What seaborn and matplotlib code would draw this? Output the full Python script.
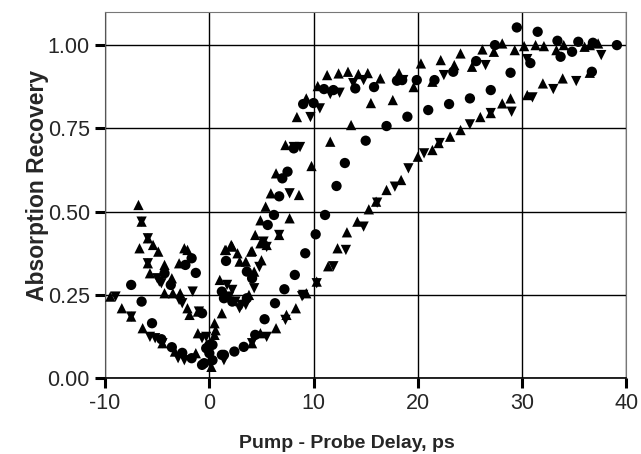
import numpy as np
import pandas as pd
import matplotlib
matplotlib.use("Agg")
import matplotlib.pyplot as plt
import seaborn as sns

# ---- data ----
up_x = [-9.5, -8.4, -6.8, -6.5, -5.9, -6.7, -5.4, -4.9, -2.4, -2.1, -2.9, -4.3, -5.7, -3.6,
        -4.3, -3.5, -2.8, -2.1, -1.9, -7.5, -6.4, -5.9, -4.5, -3.3, -1.3, -1.1, -1.1, 0.5, 0.6,
        0.5, 0.2, 1.2, 1.0, 1.5, 1.6, 2.2, 2.1, 2.7, 2.9, 3.5, 5.0, 4.3, 3.8, 4.0, 4.4, 4.9,
        5.5, 6.7, 4.1, 4.9, 5.4, 5.9, 7.7, 8.6, 6.4, 9.8, 7.3, 8.4, 9.3, 10.4, 11.3, 12.4,
        13.3, 14.3, 15.2, 16.4, 18.2, 15.5, 17.6, 19.6, 20.3, 22.2, 24.1, 26.2, 28.1, 27.3,
        25.2, 23.5, 21.4, 29.3, 30.2, 31.3, 32.1, 33.3, 34.0, 36.0, 36.5, 37.3, 11.6, 13.6,
        4.9, 6.4, 8.3, 7.4, 9.3, 10.3, 11.4, 12.3, 13.2, 14.2, 15.3, 16.0, 17.0, 18.4, 20.0,
        21.4, 22.0, 23.1, 24.1, 26.0, 27.0, 28.1, 28.9, 30.5, 32.0, 33.9, 36.5, 4.1]
up_y = [0.245, 0.21, 0.52, 0.47, 0.42, 0.39, 0.40, 0.38, 0.39, 0.385, 0.345, 0.34, 0.315, 0.30,
        0.255, 0.255, 0.255, 0.21, 0.19, 0.185, 0.15, 0.345, 0.105, 0.08, 0.075, 0.135, 0.20, 0.165, 0.144,
        0.13, 0.034, 0.195, 0.295, 0.385, 0.385, 0.395, 0.40, 0.375, 0.35, 0.35, 0.354, 0.32, 0.25, 0.38, 0.43, 0.405,
        0.40, 0.43, 0.382, 0.474, 0.515, 0.555, 0.48, 0.55, 0.615, 0.637, 0.70, 0.784, 0.84, 0.877, 0.91, 0.915,
        0.92, 0.913, 0.916, 0.90, 0.916, 0.826, 0.835, 0.874, 0.945, 0.955, 0.975, 0.987, 1.005, 0.98,
        0.935, 0.94, 0.89, 0.985, 0.997, 1.0, 0.997, 0.985, 1.0, 0.995, 1.0, 1.005, 0.71, 0.76,
        0.135, 0.15, 0.21, 0.19, 0.255, 0.29, 0.336, 0.39, 0.438, 0.47, 0.507, 0.53, 0.565, 0.595, 0.665,
        0.685, 0.706, 0.725, 0.745, 0.784, 0.796, 0.825, 0.84, 0.85, 0.885, 0.90, 0.917, 0.105]

circ_x = [-7.5, -6.5, -1.7, -2.3, -1.3, -4.3, -3.7, -0.7, -5.5, -4.6, -3.6, -2.6, -1.7, -0.3, 0.3,
          0.0, -0.5, 0.3, -0.7, 0.0, 1.2, 1.4, 2.4, 3.3, 4.4, 5.3, 6.3, 7.2, 8.2, 9.2, 10.2, 11.1,
          12.2, 13.0, 15.0, 17.0, 19.0, 21.0, 23.0, 25.0, 27.0, 28.9, 30.8, 33.7, 34.8, 36.7,
          1.2, 1.6, 1.4, 2.2, 3.6, 3.6, 4.1, 5.6, 6.2, 6.7, 7.0, 7.5, 8.1, 9.0, 10.0, 11.0,
          11.9, 14.0, 15.8, 18.0, 18.5, 19.9, 21.6, 23.4, 25.6, 27.4, 29.5, 31.5, 33.4, 35.4,
          36.8, 39.1]
circ_y = [0.28, 0.23, 0.36, 0.34, 0.316, 0.315, 0.28, 0.195, 0.165, 0.117, 0.093, 0.076, 0.06, 0.09, 0.10,
          0.075, 0.045, 0.054, 0.04, 0.10, 0.07, 0.07, 0.08, 0.094, 0.13, 0.177, 0.225, 0.267, 0.31, 0.375, 0.432, 0.49,
          0.577, 0.646, 0.713, 0.757, 0.785, 0.805, 0.823, 0.84, 0.865, 0.917, 0.946, 0.965, 0.98, 0.92,
          0.26, 0.352, 0.24, 0.23, 0.24, 0.32, 0.30, 0.46, 0.49, 0.546, 0.60, 0.62, 0.69, 0.823, 0.826, 0.868,
          0.865, 0.87, 0.874, 0.893, 0.895, 0.895, 0.895, 0.92, 0.952, 1.0, 1.053, 1.04, 1.013, 1.01,
          1.007, 1.0]

down_x = [-9.0, -6.5, -5.9, -5.9, -5.0, -4.8, -4.6, -2.9, -2.6, -1.6, -1.0, -0.3, -7.5, -5.7, -5.2,
          -4.5, -3.0, -2.4, -0.7, 1.4, 1.7, 2.2, 1.9, 2.5, 3.1, 2.9, 3.5, 4.3, 4.8, 4.1, 5.5, 7.3,
          9.0, 8.9, 10.3, 11.9, 13.1, 14.8, 16.1, 17.8, 19.1, 20.6, 22.1, 25.0, 27.0, 29.0, 31.0,
          33.0, 35.2, 5.2, 5.5, 6.7, 7.7, 8.1, 8.7, 9.7, 10.6, 11.6, 12.5, 13.8, 14.8, 18.6,
          22.5, 26.5, 30.5, 37.6]
down_y = [0.245, 0.47, 0.42, 0.345, 0.30, 0.29, 0.285, 0.235, 0.225, 0.26, 0.20, 0.124, 0.185, 0.124, 0.12,
          0.105, 0.06, 0.054, 0.12, 0.054, 0.28, 0.265, 0.245, 0.23, 0.22, 0.21, 0.22, 0.27, 0.334, 0.105, 0.124, 0.175,
          0.25, 0.246, 0.285, 0.336, 0.385, 0.455, 0.527, 0.575, 0.63, 0.675, 0.706, 0.762, 0.796, 0.80, 0.843,
          0.868, 0.892, 0.41, 0.394, 0.43, 0.555, 0.694, 0.694, 0.784, 0.81, 0.853, 0.857, 0.886, 0.895, 0.895,
          0.91, 0.94, 0.958, 0.97]

x_ticks = [-10, 0, 10, 20, 30, 40]
y_ticks = [0.00, 0.25, 0.50, 0.75, 1.00]
y_tick_labels = ["0.00", "0.25", "0.50", "0.75", "1.00"]
x_label = "Pump - Probe Delay, ps"
y_label = "Absorption Recovery"

# ---- build table ----
df = pd.concat([
    pd.DataFrame({"x": up_x, "y": up_y, "kind": "up"}),
    pd.DataFrame({"x": circ_x, "y": circ_y, "kind": "circle"}),
    pd.DataFrame({"x": down_x, "y": down_y, "kind": "down"}),
], ignore_index=True)

sns.set_style("white")
plt.rcParams["font.family"] = ["Liberation Sans", "DejaVu Sans"]

fig = plt.figure(figsize=(6.41, 4.54), dpi=100)
ax = fig.add_axes([0.164, 0.167, 0.813, 0.807])

sns.scatterplot(data=df, x="x", y="y", style="kind",
                markers={"up": "^", "circle": "o", "down": "v"},
                color="black", s=55, linewidth=0, edgecolor="black",
                legend=False, ax=ax, zorder=3)

ax.set_xlim(-10, 40)
ax.set_ylim(0, 1.1)
ax.set_xticks(x_ticks)
ax.set_xticklabels([str(t) for t in x_ticks])
ax.set_yticks(y_ticks)
ax.set_yticklabels(y_tick_labels)

for t in x_ticks:
    ax.axvline(t, color="black", lw=1.0, zorder=1)
for t in y_ticks:
    ax.axhline(t, color="black", lw=1.0, zorder=1)

for side in ["top", "right"]:
    ax.spines[side].set_color("#777777")
    ax.spines[side].set_linewidth(0.8)
ax.spines["left"].set_color("#555555")
ax.spines["left"].set_linewidth(0.8)
ax.spines["bottom"].set_color("black")
ax.spines["bottom"].set_linewidth(1.2)

ax.tick_params(axis="both", direction="out", length=7, width=2.2, color="black",
               labelsize=15.5, pad=4, bottom=True, left=True)

ax.set_xlabel(x_label, fontsize=14, fontweight="bold")
ax.xaxis.label.set_va("baseline")
ax.xaxis.set_label_coords(0.4645, -0.191)

ax.set_ylabel(y_label, fontsize=16.5, fontweight="bold")
ax.yaxis.label.set_va("center")
ax.yaxis.set_label_coords(-0.1305, 0.525)

fig.savefig("out.png", dpi=100)
